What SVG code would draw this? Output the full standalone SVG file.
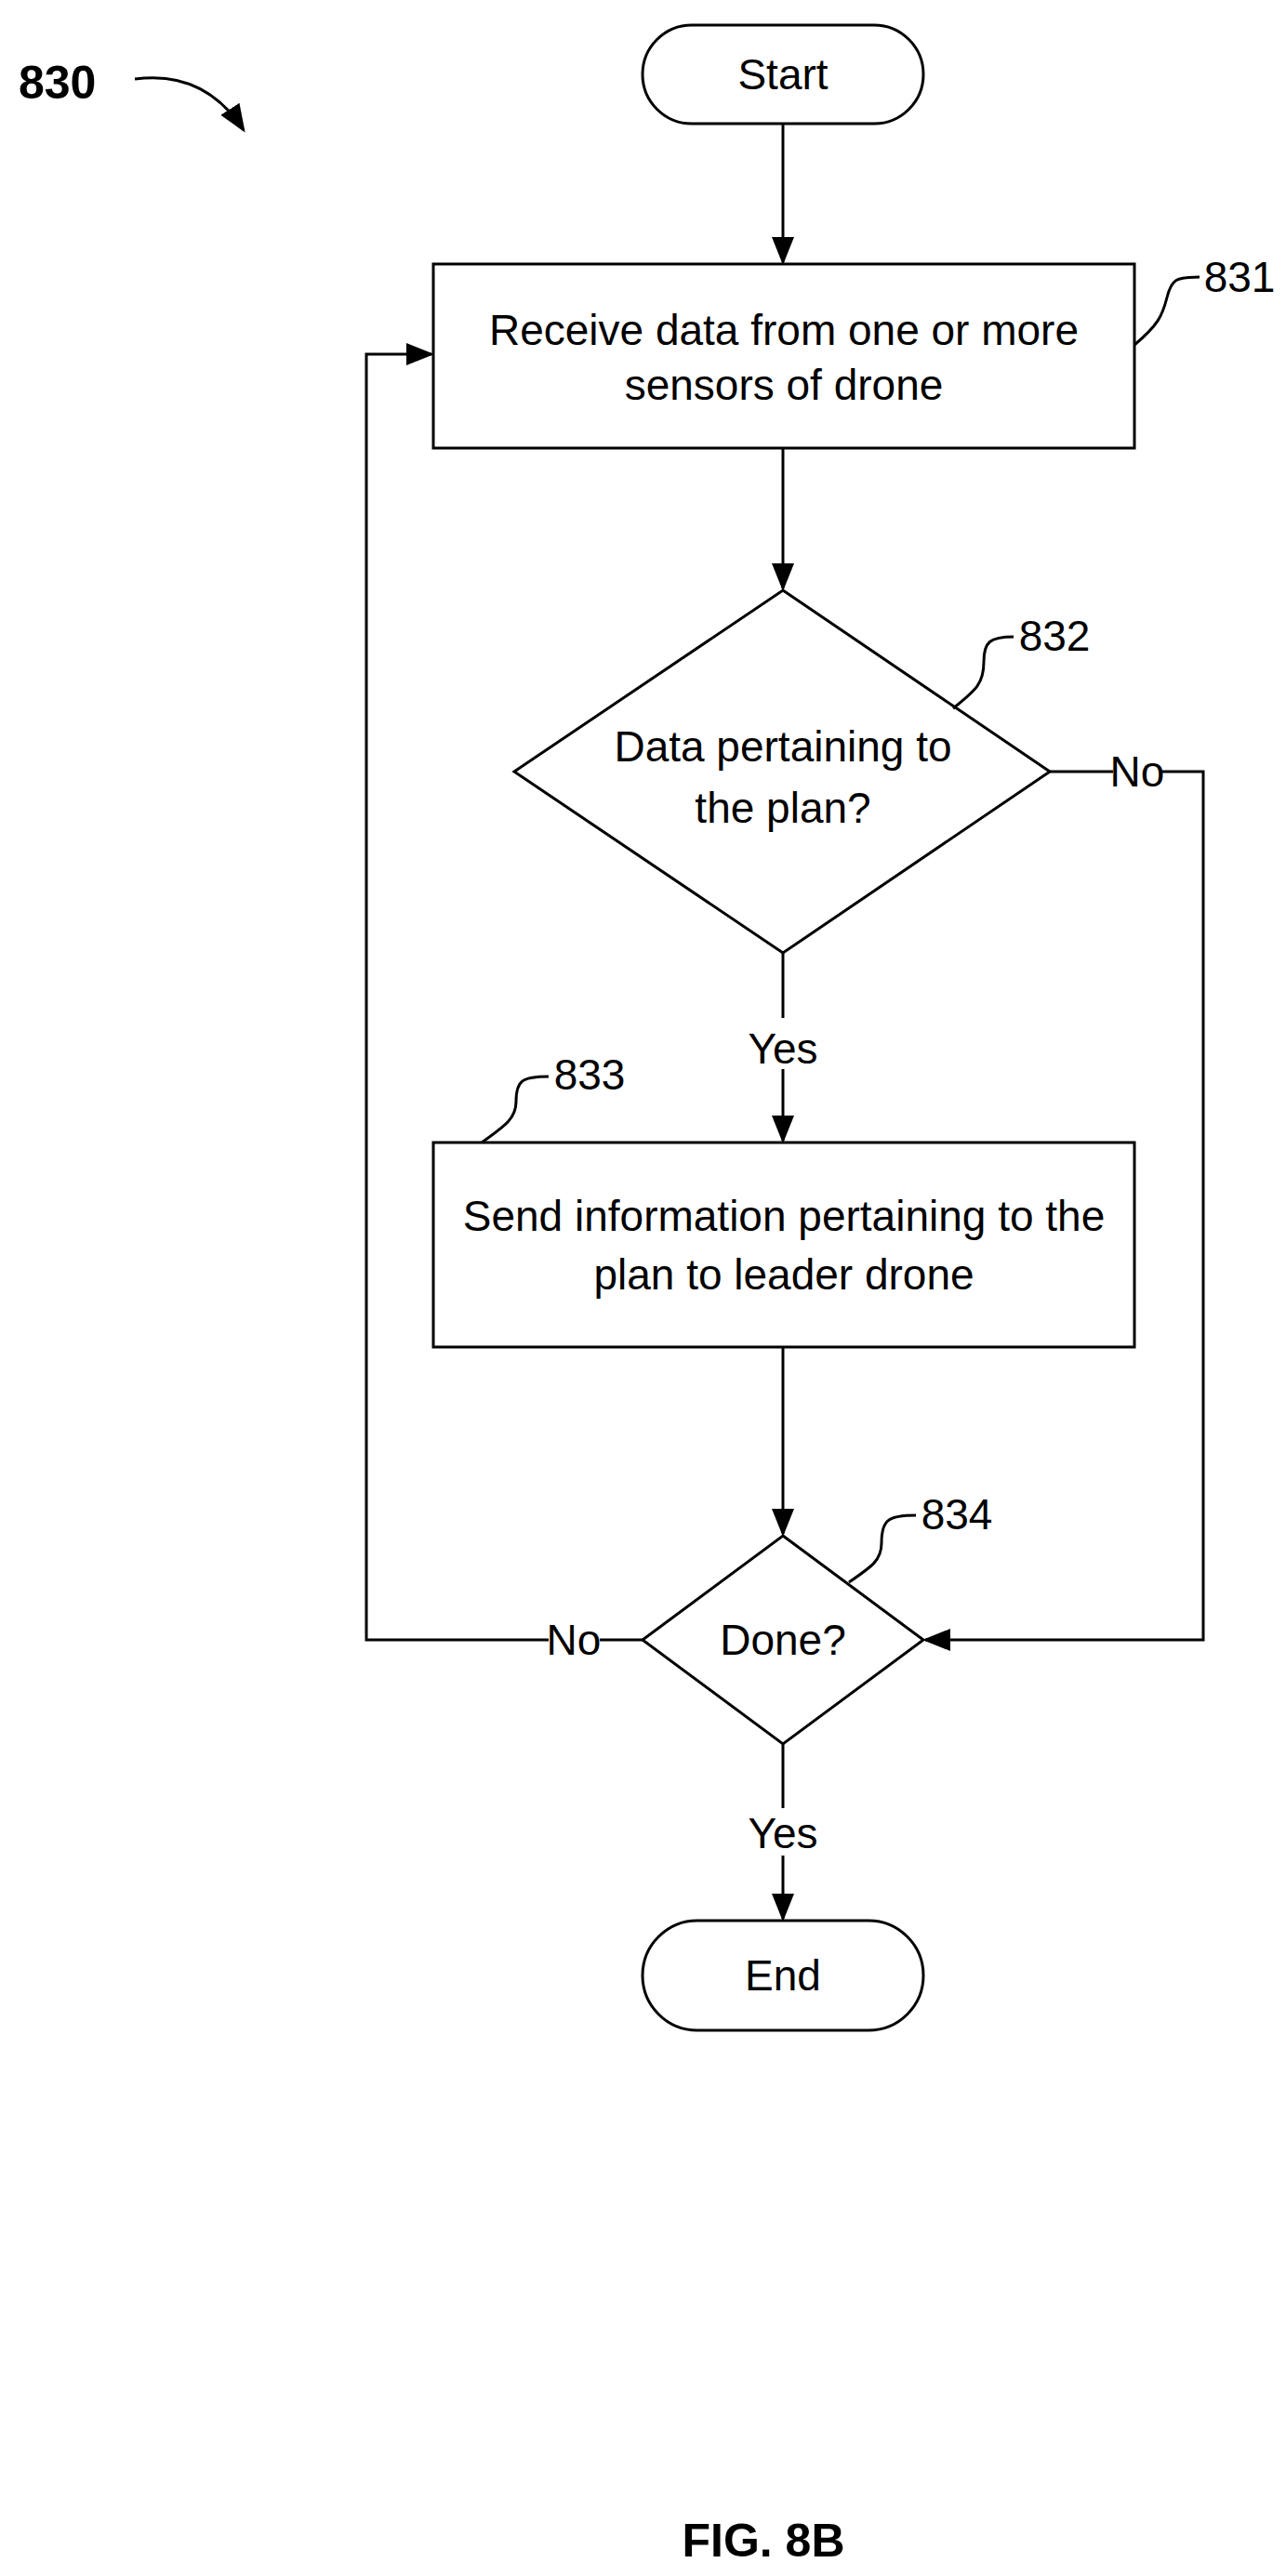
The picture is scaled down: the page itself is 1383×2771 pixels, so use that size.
<svg xmlns="http://www.w3.org/2000/svg" width="1383" height="2771" viewBox="0 0 1383 2771">
<style>
.s{fill:#fff;stroke:#000;stroke-width:3}
.l{fill:none;stroke:#000;stroke-width:3}
.t{font-family:"Liberation Sans",Arial,sans-serif;font-size:46px;text-anchor:middle;fill:#000}
.b{font-family:"Liberation Sans",Arial,sans-serif;font-size:50px;font-weight:bold;fill:#000}
</style>
<defs>
<marker id="A" viewBox="0 0 10 10" refX="9" refY="5" markerWidth="30" markerHeight="30" orient="auto" markerUnits="userSpaceOnUse"><path d="M0,1L10,5L0,9z" fill="#000"/></marker></defs>
<rect width="1383" height="2771" fill="#fff"/>
<g id="label830"><text class="b" x="20" y="106">830</text><path class="l" d="M145,85 Q220,75 262,140" marker-end="url(#A)"/></g>
<g id="start"><rect class="s" x="691" y="27" width="302" height="106" rx="53"/><text class="t" x="842" y="96">Start</text></g>
<g id="n831"><rect class="s" x="466" y="284" width="754" height="198"/><text class="t" x="843" y="371">Receive data from one or more</text><text class="t" x="843" y="430">sensors of drone</text>
<path class="l" d="M1220,371 C1245,350 1250,340 1255,320 C1260,300 1265,298 1290,298"/><text class="t" x="1333" y="314">831</text></g>
<g id="n832"><polygon class="s" points="842,635 1129,830 842,1025 553,830"/><text class="t" x="842" y="819">Data pertaining to</text><text class="t" x="842" y="885">the plan?</text>
<path class="l" d="M1025,762 C1050,742 1058,735 1058,712 C1058,690 1065,685 1090,685"/><text class="t" x="1134" y="700">832</text></g>
<g id="n833"><rect class="s" x="466" y="1229" width="754" height="220"/><text class="t" x="843" y="1324">Send information pertaining to the</text><text class="t" x="843" y="1387">plan to leader drone</text>
<path class="l" d="M518,1229 C545,1210 555,1202 555,1185 C555,1162 562,1158 590,1158"/><text class="t" x="634" y="1172">833</text></g>
<g id="n834"><polygon class="s" points="842,1652 993,1764 842,1876 691,1764"/><text class="t" x="842" y="1780">Done?</text>
<path class="l" d="M913,1702 C938,1685 948,1678 948,1660 C948,1635 955,1630 985,1630"/><text class="t" x="1029" y="1645">834</text></g>
<g id="end"><rect class="s" x="691" y="2066" width="302" height="118" rx="59"/><text class="t" x="842" y="2141">End</text></g>
<g id="connectors">
<path class="l" d="M842,133V282" marker-end="url(#A)"/>
<path class="l" d="M842,482V633" marker-end="url(#A)"/>
<path class="l" d="M842,1025V1095M842,1150V1227" marker-end="url(#A)"/>
<text class="t" x="842" y="1144">Yes</text>
<path class="l" d="M842,1449V1650" marker-end="url(#A)"/>
<path class="l" d="M1129,830H1197M1250,830H1294V1764H995" marker-end="url(#A)"/>
<text class="t" x="1223" y="846">No</text>
<path class="l" d="M691,1764H645M590,1764H394V381H464" marker-end="url(#A)"/>
<text class="t" x="617" y="1780">No</text>
<path class="l" d="M842,1876V1945M842,1996V2064" marker-end="url(#A)"/>
<text class="t" x="842" y="1988">Yes</text>
</g>
<text class="b" x="821" y="2750" text-anchor="middle">FIG. 8B</text>
</svg>
